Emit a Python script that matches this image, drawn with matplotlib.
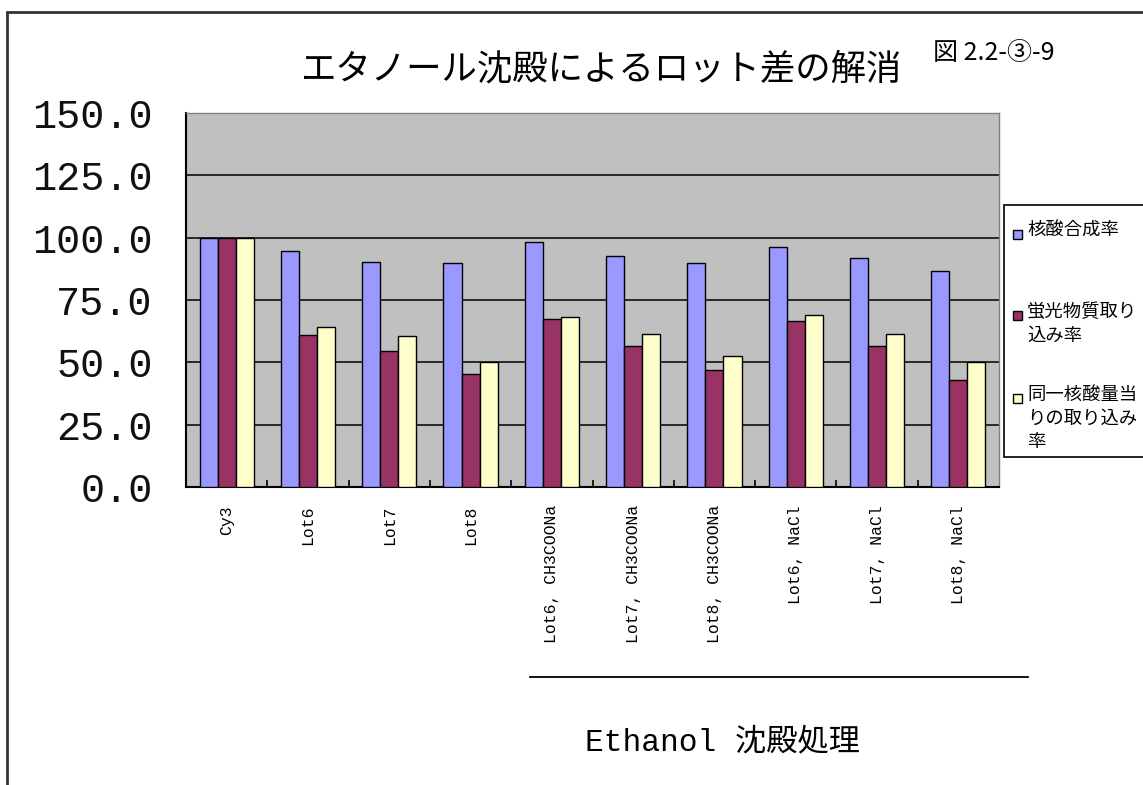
import numpy as np
import matplotlib
matplotlib.use("Agg")
import matplotlib.pyplot as plt
from matplotlib.patches import Rectangle
from matplotlib.lines import Line2D

# data
categories = ["Cy3", "Lot6", "Lot7", "Lot8",
              "Lot6, CH3COONa", "Lot7, CH3COONa", "Lot8, CH3COONa",
              "Lot6, NaCl", "Lot7, NaCl", "Lot8, NaCl"]
synthesis = [100.0, 94.7, 90.4, 89.8, 98.4, 92.5, 89.8, 96.3, 92.0, 86.5]
uptake = [100.0, 61.0, 54.4, 45.2, 67.5, 56.7, 46.9, 66.5, 56.7, 43.0]
uptake_per_na = [100.0, 64.3, 60.4, 50.1, 68.1, 61.5, 52.4, 69.1, 61.5, 50.1]
series_names = ["核酸合成率", "蛍光物質取り\n込み率", "同一核酸量当\nりの取り込み\n率"]
colors = ["#9999FF", "#993366", "#FFFFCC"]
yticks = [0, 25, 50, 75, 100, 125, 150]

W, H = 1143, 785
fig = plt.figure(figsize=(W / 100, H / 100), dpi=100)

def fx(px):
    return px / W

def fy(py):
    return 1 - py / H

# plot area
ax = fig.add_axes([fx(186), fy(487), fx(999) - fx(186), fy(113) - fy(487)])
ax.set_facecolor("#C0C0C0")

x = np.arange(len(categories))
bw = 0.222
for i, (vals, c) in enumerate(zip([synthesis, uptake, uptake_per_na], colors)):
    ax.bar(x + (i - 1) * bw, vals, bw, color=c, edgecolor="black", linewidth=1, zorder=3)

ax.set_xlim(-0.5, len(categories) - 0.5)
ax.set_ylim(0, 150)
ax.set_yticks(yticks)
ax.set_yticklabels([f"{v:.1f}" for v in yticks], family="Liberation Mono", fontsize=29,
                   color="#111111")
ax.yaxis.grid(True, color="black", linewidth=1.1, zorder=1)
ax.set_axisbelow(True)
ax.tick_params(axis="y", length=0, pad=24)

ax.set_xticks(x)
ax.set_xticklabels(categories, rotation=90, va="top", ha="center",
                   family="Liberation Mono", fontsize=11.8)
ax.tick_params(axis="x", which="major", length=0, pad=13)
ax.set_xticks(x[:-1] + 0.5, minor=True)
ax.tick_params(axis="x", which="minor", direction="in", length=5, width=1.2, color="black")

for s in ["left", "bottom"]:
    ax.spines[s].set_color("black")
    ax.spines[s].set_linewidth(1.5)
for s in ["top", "right"]:
    ax.spines[s].set_color("#808080")
    ax.spines[s].set_linewidth(1)

# titles
jp = ["Noto Sans CJK JP", "DejaVu Sans"]
fig.text(fx(602), fy(70), "エタノール沈殿によるロット差の解消", family=jp,
         fontsize=25.5, ha="center", va="center")
fig.text(fx(933), fy(53), "図 2.2-③-9", family=jp, fontsize=18, ha="left", va="center")

# bracket line and group label
fig.add_artist(Line2D([fx(530), fx(1028)], [fy(677), fy(677)], color="black", linewidth=1.3))
fig.text(fx(585), fy(742), "Ethanol 沈殿処理", family=["Liberation Mono", "Noto Sans CJK JP"],
         fontsize=22.5, ha="left", va="center")

# legend box (clipped at right edge like the original)
fig.add_artist(Rectangle((fx(1004), fy(457)), fx(1160) - fx(1004), fy(205) - fy(457),
                         transform=fig.transFigure, facecolor="white", edgecolor="black",
                         linewidth=1.2, clip_on=False))
entry_y = [234, 315, 398]
for name, c, yy in zip(series_names, colors, entry_y):
    fig.add_artist(Rectangle((fx(1013), fy(yy + 5)), fx(9), 9 / H,
                             transform=fig.transFigure, facecolor=c, edgecolor="black",
                             linewidth=1))
    fig.text(fx(1027), fy(yy - 12), name, family=jp, fontsize=13.2, ha="left", va="top",
             linespacing=1.4)

# outer border
fig.add_artist(Rectangle((fx(7), -0.05), 1.1, fy(12) + 0.05, transform=fig.transFigure,
                         facecolor="none", edgecolor="#333333", linewidth=2, clip_on=False))

fig.savefig("out.png", dpi=100)
